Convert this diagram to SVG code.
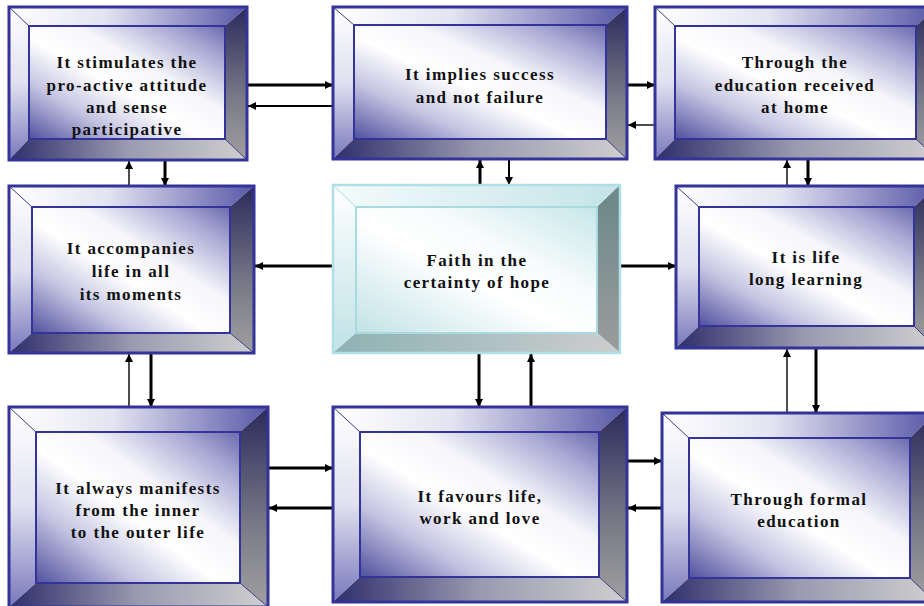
<svg xmlns="http://www.w3.org/2000/svg" width="924" height="606" viewBox="0 0 924 606">
  <defs>
    <!-- blue bevelled box shading -->
    <linearGradient id="bTop" x1="0" y1="0" x2="1" y2="0">
      <stop offset="0" stop-color="#ffffff"/>
      <stop offset="0.4" stop-color="#e4e4f2"/>
      <stop offset="1" stop-color="#5858a8"/>
    </linearGradient>
    <linearGradient id="bLeft" x1="0" y1="0" x2="0" y2="1">
      <stop offset="0" stop-color="#ffffff"/>
      <stop offset="0.5" stop-color="#e0e0f0"/>
      <stop offset="1" stop-color="#7878bc"/>
    </linearGradient>
    <linearGradient id="bRight" x1="0" y1="0" x2="0" y2="1">
      <stop offset="0" stop-color="#2a2a5c"/>
      <stop offset="0.6" stop-color="#7a7a88"/>
      <stop offset="1" stop-color="#a0a0a0"/>
    </linearGradient>
    <linearGradient id="bBottom" x1="0" y1="0" x2="1" y2="0">
      <stop offset="0" stop-color="#2e2e6c"/>
      <stop offset="0.5" stop-color="#9a9ab0"/>
      <stop offset="1" stop-color="#cfcfcf"/>
    </linearGradient>
    <linearGradient id="bFace" x1="0" y1="1" x2="1" y2="0">
      <stop offset="0" stop-color="#50509e"/>
      <stop offset="0.25" stop-color="#c4c4e2"/>
      <stop offset="0.45" stop-color="#ffffff"/>
      <stop offset="0.62" stop-color="#f6f6fb"/>
      <stop offset="0.85" stop-color="#a8a8d4"/>
      <stop offset="1" stop-color="#6a6aae"/>
    </linearGradient>
    <!-- light cyan central box shading -->
    <linearGradient id="cTop" x1="0" y1="0" x2="1" y2="0">
      <stop offset="0" stop-color="#f4fbfb"/>
      <stop offset="1" stop-color="#c4e4e8"/>
    </linearGradient>
    <linearGradient id="cLeft" x1="0" y1="0" x2="0" y2="1">
      <stop offset="0" stop-color="#ffffff"/>
      <stop offset="1" stop-color="#c0e2e6"/>
    </linearGradient>
    <linearGradient id="cRight" x1="0" y1="0" x2="0" y2="1">
      <stop offset="0" stop-color="#6a8888"/>
      <stop offset="1" stop-color="#9c9c9c"/>
    </linearGradient>
    <linearGradient id="cBottom" x1="0" y1="0" x2="1" y2="0">
      <stop offset="0" stop-color="#8eb2b4"/>
      <stop offset="1" stop-color="#cdcdcd"/>
    </linearGradient>
    <linearGradient id="cFace" x1="0" y1="1" x2="1" y2="0">
      <stop offset="0" stop-color="#c2e2e6"/>
      <stop offset="0.45" stop-color="#ffffff"/>
      <stop offset="0.65" stop-color="#f6fbfb"/>
      <stop offset="1" stop-color="#c6e6ea"/>
    </linearGradient>
    <marker id="head" markerUnits="userSpaceOnUse" markerWidth="10" markerHeight="10" refX="8" refY="4" orient="auto">
      <path d="M0,0 L8,4 L0,8 Z" fill="#000"/>
    </marker>
  </defs>
  <style>
    .b .t { fill: url(#bTop); }
    .b .l { fill: url(#bLeft); }
    .b .r { fill: url(#bRight); }
    .b .bt { fill: url(#bBottom); }
    .b .face { fill: url(#bFace); stroke: #33339a; stroke-width: 2; }
    .b .frame { fill: none; stroke: #333399; stroke-width: 3; }
    .b .edge { stroke: #3a3a8a; stroke-width: 1; }
    .c .t { fill: url(#cTop); }
    .c .l { fill: url(#cLeft); }
    .c .r { fill: url(#cRight); }
    .c .bt { fill: url(#cBottom); }
    .c .face { fill: url(#cFace); stroke: #a8dadf; stroke-width: 2; }
    .c .frame { fill: none; stroke: #b0e0e6; stroke-width: 2.5; }
    .c .edge { stroke: #a8dadf; stroke-width: 1; }
    text { font-family: "Liberation Serif", "Times New Roman", serif; font-weight: bold; font-size: 17px; letter-spacing: 1.4px; fill: #111; text-anchor: middle; }
    .arr line { stroke: #000; marker-end: url(#head); }
    .thick { stroke-width: 3; }
    .mid { stroke-width: 2; }
    .thin { stroke-width: 1.4; }
  </style>

  <!-- connectors -->
  <g id="connectors" class="arr">
    <line class="thick" x1="247" y1="85" x2="333" y2="85"/>
    <line class="mid" x1="333" y1="106" x2="248" y2="106"/>
    <line class="thick" x1="617" y1="85" x2="655" y2="85"/>
    <line class="thin" x1="655" y1="125" x2="628" y2="125"/>
    <line class="thin" x1="129" y1="186" x2="129" y2="161"/>
    <line class="thick" x1="165" y1="160" x2="165" y2="186"/>
    <line class="thin" x1="129" y1="407" x2="129" y2="354"/>
    <line class="thick" x1="151" y1="353" x2="151" y2="407"/>
    <line class="thick" x1="480" y1="185" x2="480" y2="160"/>
    <line class="mid" x1="509" y1="159" x2="509" y2="185"/>
    <line class="thin" x1="787" y1="186" x2="787" y2="160"/>
    <line class="thick" x1="808" y1="159" x2="808" y2="186"/>
    <line class="thick" x1="333" y1="266" x2="255" y2="266"/>
    <line class="thick" x1="617" y1="266" x2="676" y2="266"/>
    <line class="thick" x1="479" y1="353" x2="479" y2="407"/>
    <line class="thick" x1="531" y1="407" x2="531" y2="354"/>
    <line class="thick" x1="268" y1="468" x2="333" y2="468"/>
    <line class="thick" x1="333" y1="508" x2="269" y2="508"/>
    <line class="thick" x1="617" y1="461" x2="662" y2="461"/>
    <line class="thick" x1="662" y1="508" x2="628" y2="508"/>
    <line class="thin" x1="787" y1="413" x2="787" y2="349"/>
    <line class="thick" x1="816" y1="348" x2="816" y2="413"/>
  </g>

  <g id="node-stimulates" class="b">
    <polygon class="t" points="9,7 247,7 225,26 29,26"/>
    <polygon class="l" points="9,7 29,26 29,139 9,160"/>
    <polygon class="r" points="247,7 247,160 225,139 225,26"/>
    <polygon class="bt" points="9,160 29,139 225,139 247,160"/>
    <path class="edge" d="M9,7 L29,26 M247,160 L225,139"/>
    <rect class="face" x="29" y="26" width="196" height="113"/>
    <rect class="frame" x="9" y="7" width="238" height="153"/>
    <text x="127" y="68">It stimulates the</text>
    <text x="127" y="90.5">pro-active attitude</text>
    <text x="127" y="112.5">and sense</text>
    <text x="127" y="135">participative</text>
  </g>

  <g id="node-success" class="b">
    <polygon class="t" points="333,7 627,7 606,25 354,25"/>
    <polygon class="l" points="333,7 354,25 354,139 333,159"/>
    <polygon class="r" points="627,7 627,159 606,139 606,25"/>
    <polygon class="bt" points="333,159 354,139 606,139 627,159"/>
    <path class="edge" d="M333,7 L354,25 M627,159 L606,139"/>
    <rect class="face" x="354" y="25" width="252" height="114"/>
    <rect class="frame" x="333" y="7" width="294" height="152"/>
    <text x="480" y="80">It implies success</text>
    <text x="480" y="103">and not failure</text>
  </g>

  <g id="node-home" class="b">
    <polygon class="t" points="655,7 937,7 916,26 675,26"/>
    <polygon class="l" points="655,7 675,26 675,139 655,159"/>
    <polygon class="r" points="937,7 937,159 916,139 916,26"/>
    <polygon class="bt" points="655,159 675,139 916,139 937,159"/>
    <path class="edge" d="M655,7 L675,26 M937,159 L916,139"/>
    <rect class="face" x="675" y="26" width="241" height="113"/>
    <rect class="frame" x="655" y="7" width="282" height="152"/>
    <text x="795" y="68">Through the</text>
    <text x="795" y="91">education received</text>
    <text x="795" y="113">at home</text>
  </g>

  <g id="node-accompanies" class="b">
    <polygon class="t" points="9,186 254,186 230,207 32,207"/>
    <polygon class="l" points="9,186 32,207 32,333 9,353"/>
    <polygon class="r" points="254,186 254,353 230,333 230,207"/>
    <polygon class="bt" points="9,353 32,333 230,333 254,353"/>
    <path class="edge" d="M9,186 L32,207 M254,353 L230,333"/>
    <rect class="face" x="32" y="207" width="198" height="126"/>
    <rect class="frame" x="9" y="186" width="245" height="167"/>
    <text x="131" y="254">It accompanies</text>
    <text x="131" y="277">life in all</text>
    <text x="131" y="300">its moments</text>
  </g>

  <g id="node-faith" class="c">
    <polygon class="t" points="333,185 620,185 597,207 356,207"/>
    <polygon class="l" points="333,185 356,207 356,333 333,353"/>
    <polygon class="r" points="620,185 620,353 597,333 597,207"/>
    <polygon class="bt" points="333,353 356,333 597,333 620,353"/>
    <path class="edge" d="M333,185 L356,207 M620,353 L597,333"/>
    <rect class="face" x="356" y="207" width="241" height="126"/>
    <rect class="frame" x="333" y="185" width="287" height="168"/>
    <text x="477" y="266">Faith in the</text>
    <text x="477" y="288">certainty of hope</text>
  </g>

  <g id="node-lifelong" class="b">
    <polygon class="t" points="676,186 936,186 914,207 699,207"/>
    <polygon class="l" points="676,186 699,207 699,326 676,348"/>
    <polygon class="r" points="936,186 936,348 914,326 914,207"/>
    <polygon class="bt" points="676,348 699,326 914,326 936,348"/>
    <path class="edge" d="M676,186 L699,207 M936,348 L914,326"/>
    <rect class="face" x="699" y="207" width="215" height="119"/>
    <rect class="frame" x="676" y="186" width="260" height="162"/>
    <text x="806" y="263">It is life</text>
    <text x="806" y="285">long learning</text>
  </g>

  <g id="node-manifests" class="b">
    <polygon class="t" points="9,407 268,407 240,432 36,432"/>
    <polygon class="l" points="9,407 36,432 36,583 9,607"/>
    <polygon class="r" points="268,407 268,607 240,583 240,432"/>
    <polygon class="bt" points="9,607 36,583 240,583 268,607"/>
    <path class="edge" d="M9,407 L36,432 M268,607 L240,583"/>
    <rect class="face" x="36" y="432" width="204" height="151"/>
    <rect class="frame" x="9" y="407" width="259" height="200"/>
    <text x="138" y="494">It always manifests</text>
    <text x="138" y="516">from the inner</text>
    <text x="138" y="538">to the outer life</text>
  </g>

  <g id="node-favours" class="b">
    <polygon class="t" points="333,407 627,407 599,432 360,432"/>
    <polygon class="l" points="333,407 360,432 360,577 333,602"/>
    <polygon class="r" points="627,407 627,602 599,577 599,432"/>
    <polygon class="bt" points="333,602 360,577 599,577 627,602"/>
    <path class="edge" d="M333,407 L360,432 M627,602 L599,577"/>
    <rect class="face" x="360" y="432" width="239" height="145"/>
    <rect class="frame" x="333" y="407" width="294" height="195"/>
    <text x="480" y="502">It favours life,</text>
    <text x="480" y="524">work and love</text>
  </g>

  <g id="node-formal" class="b">
    <polygon class="t" points="662,413 935,413 910,438 689,438"/>
    <polygon class="l" points="662,413 689,438 689,578 662,602"/>
    <polygon class="r" points="935,413 935,602 910,578 910,438"/>
    <polygon class="bt" points="662,602 689,578 910,578 935,602"/>
    <path class="edge" d="M662,413 L689,438 M935,602 L910,578"/>
    <rect class="face" x="689" y="438" width="221" height="140"/>
    <rect class="frame" x="662" y="413" width="273" height="189"/>
    <text x="799" y="505">Through formal</text>
    <text x="799" y="527">education</text>
  </g>
</svg>
